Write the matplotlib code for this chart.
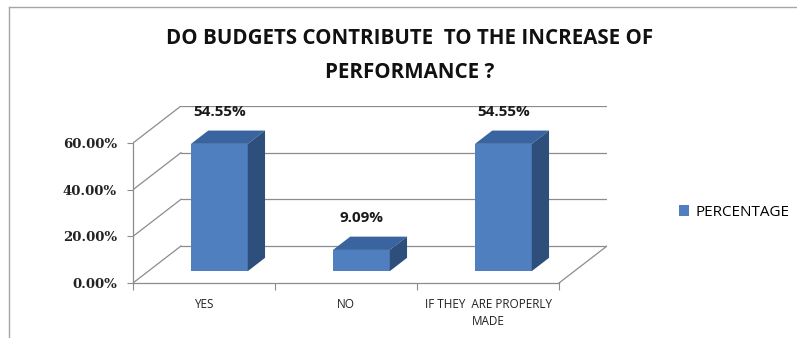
import numpy as np
import matplotlib.pyplot as plt
from matplotlib.patches import Polygon
from matplotlib.lines import Line2D

categories = ['YES', 'NO', 'IF THEY  ARE PROPERLY\nMADE']
values = [54.55, 9.09, 54.55]
yticks = [0, 20, 40, 60]
series_name = 'PERCENTAGE'
title = 'DO BUDGETS CONTRIBUTE  TO THE INCREASE OF\nPERFORMANCE ?'

# oblique 3d look: depth offset in data units, bars sit between d0 and d1
DX, DY = 0.338, 15.86
d0, d1 = 0.32, 0.68
bw = 0.4
c_front, c_top, c_side = '#4F7FBE', '#3A64A0', '#2E4F7C'
grid_c = '#8C8C8C'

fig = plt.figure(figsize=(7.97, 3.38), dpi=100)
ax = fig.add_axes([133 / 797, 55 / 338, 474 / 797, 177 / 338])
ax.set_xlim(0, 3 + DX)
ax.set_ylim(0, 60 + DY)

# back wall and side wall
for v in yticks:
    ax.plot([DX, 3 + DX], [v + DY, v + DY], color=grid_c, lw=0.9, zorder=1)
    ax.plot([0, DX], [v, v + DY], color=grid_c, lw=0.9, zorder=1)
ax.plot([3, 3 + DX], [0, DY], color=grid_c, lw=0.9, zorder=1)

centers = np.arange(len(values)) + 0.5
bars = ax.bar(centers + d0 * DX, values, width=bw, bottom=d0 * DY,
              color=c_front, zorder=3)

ddx, ddy = (d1 - d0) * DX, (d1 - d0) * DY
for c, v in zip(centers, values):
    x0 = c - bw / 2 + d0 * DX
    x1 = x0 + bw
    y0 = d0 * DY
    y1 = y0 + v
    ax.add_patch(Polygon([(x0, y1), (x1, y1), (x1 + ddx, y1 + ddy), (x0 + ddx, y1 + ddy)],
                         closed=True, facecolor=c_top, edgecolor='none', zorder=3))
    ax.add_patch(Polygon([(x1, y0), (x1, y1), (x1 + ddx, y1 + ddy), (x1 + ddx, y0 + ddy)],
                         closed=True, facecolor=c_side, edgecolor='none', zorder=3))
    ax.text(c + d0 * DX, v + d1 * DY + 8, f'{v:.2f}%', ha='center', va='center',
            fontsize=11, fontweight='bold', family='Open Sans', color='#1a1a1a')

for s in ['top', 'right']:
    ax.spines[s].set_visible(False)
ax.spines['left'].set_bounds(0, 60)
ax.spines['bottom'].set_bounds(0, 3)
for s in ['left', 'bottom']:
    ax.spines[s].set_color(grid_c)
    ax.spines[s].set_linewidth(0.9)

ax.set_yticks(yticks)
ax.set_yticklabels([f'{v:.2f}%' for v in yticks], family='DejaVu Serif',
                   fontweight='bold', fontsize=9.5, color='#222222')
ax.tick_params(axis='y', length=4, color=grid_c, pad=7.5)
ax.set_xticks([0, 1, 2, 3])
ax.set_xticklabels([])
ax.tick_params(axis='x', which='major', length=5, color=grid_c)
ax.set_xticks(centers, minor=True)
ax.set_xticklabels(categories, minor=True, family='Open Sans', fontsize=8.5,
                   color='#222222', linespacing=1.45)
ax.tick_params(axis='x', which='minor', length=0, pad=10.5)

fig.text(410 / 797, 1 - 55.5 / 338, title, ha='center', va='center', fontsize=14.8,
         fontweight='bold', family='Open Sans', linespacing=1.8, color='#111111')

fig.legend([bars], [series_name], loc='center left',
           bbox_to_anchor=(665 / 797, 1 - 212 / 338), frameon=False,
           handlelength=0.7, handleheight=0.7, handletextpad=0.4,
           prop={'family': 'Open Sans', 'size': 11})

# outer frame
fig.add_artist(Line2D([9 / 797, 9 / 797], [0, 1 - 7 / 338], color='#a6a6a6', lw=1))
fig.add_artist(Line2D([9 / 797, 1], [1 - 7 / 338, 1 - 7 / 338], color='#a6a6a6', lw=1))

fig.savefig('out.png', dpi=100)
